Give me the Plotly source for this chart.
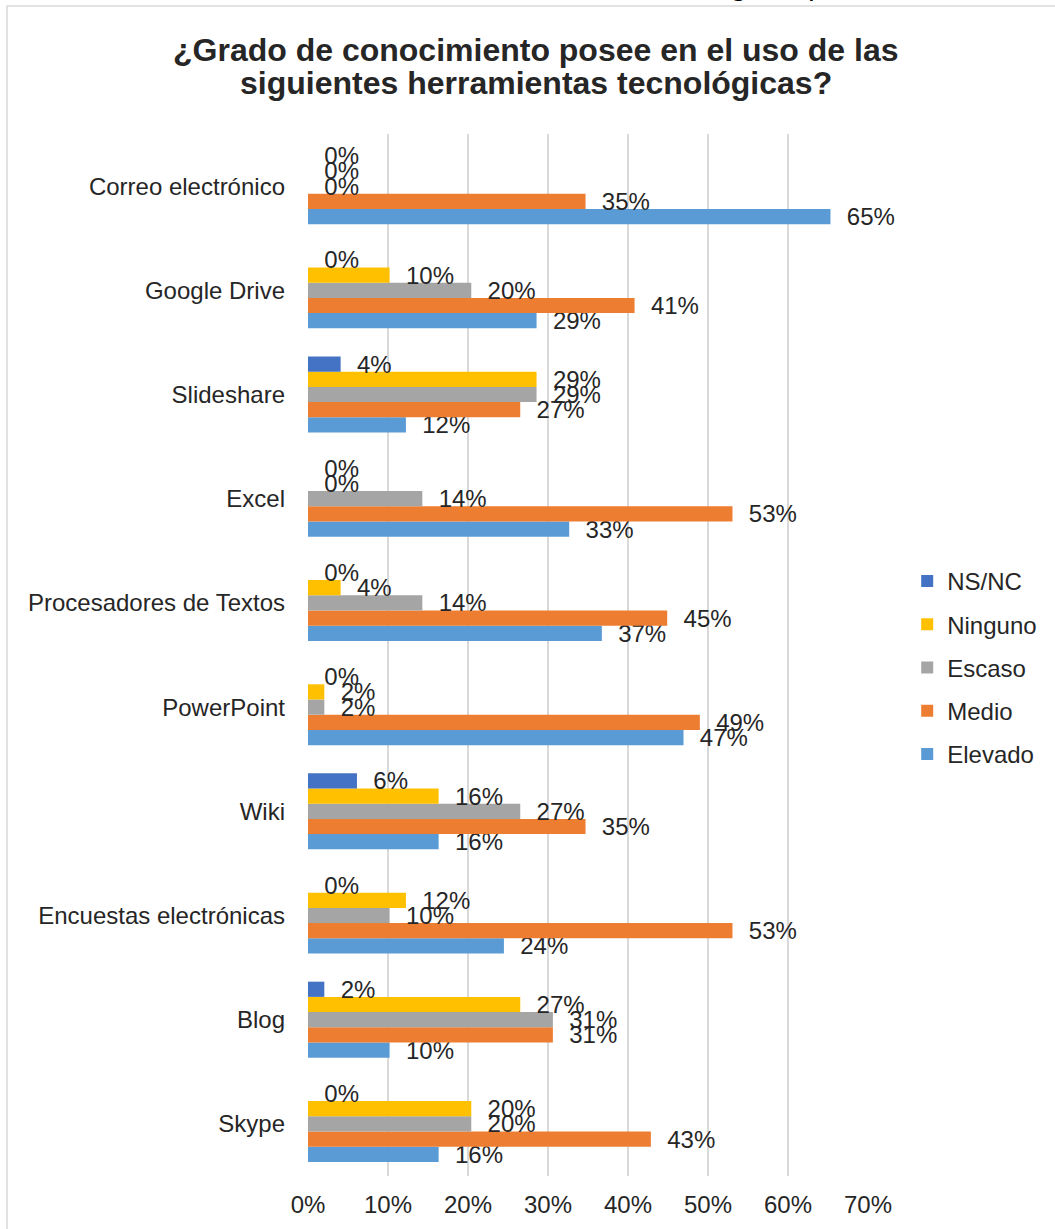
import plotly.graph_objects as go

# Categories, listed top to bottom as they appear
categories = [
    "Correo electrónico", "Google Drive", "Slideshare", "Excel",
    "Procesadores de Textos", "PowerPoint", "Wiki",
    "Encuestas electrónicas", "Blog", "Skype",
]

elevado = [0.6531, 0.2857, 0.1224, 0.3265, 0.3673, 0.4694, 0.1633, 0.2449, 0.1020, 0.1633]
medio   = [0.3469, 0.4082, 0.2653, 0.5306, 0.4490, 0.4898, 0.3469, 0.5306, 0.3061, 0.4286]
escaso  = [0.0000, 0.2041, 0.2857, 0.1429, 0.1429, 0.0204, 0.2653, 0.1020, 0.3061, 0.2041]
ninguno = [0.0000, 0.1020, 0.2857, 0.0000, 0.0408, 0.0204, 0.1633, 0.1224, 0.2653, 0.2041]
nsnc    = [0.0000, 0.0000, 0.0408, 0.0000, 0.0000, 0.0000, 0.0612, 0.0000, 0.0204, 0.0000]

tick_vals = [0, 0.1, 0.2, 0.3, 0.4, 0.5, 0.6, 0.7]
tick_text = ["0%", "10%", "20%", "30%", "40%", "50%", "60%", "70%"]

title_lines = ["¿Grado de conocimiento posee en el uso de las",
               "siguientes herramientas tecnológicas?"]
top_caption = "Grado de conocimiento de herramientas tecnológicas presentado"

# drawing order bottom -> top within each group; legend rank top -> bottom
series = [
    ("Elevado", elevado, "#5B9BD5", 5),
    ("Medio", medio, "#ED7D31", 4),
    ("Escaso", escaso, "#A5A5A5", 3),
    ("Ninguno", ninguno, "#FFC000", 2),
    ("NS/NC", nsnc, "#4472C4", 1),
]

FONT = "Liberation Sans, Arial, sans-serif"
W, H = 1055, 1229
ML, MR, MT, MB = 308, 187, 134, 53
FS = 24

fig = go.Figure()
for name, vals, color, rank in series:
    fig.add_trace(go.Bar(
        y=categories, x=vals, name=name, orientation="h",
        marker=dict(color=color, line=dict(width=0)),
        text=["\u00a0\u00a0" + f"{int(v * 100 + 0.5)}%" for v in vals],
        textposition="outside", cliponaxis=False, constraintext="none",
        textfont=dict(family=FONT, size=FS, color="#262626"),
        legendgroup=name, legendrank=rank,
    ))

fig.update_layout(
    width=W, height=H,
    margin=dict(l=ML, r=MR, t=MT, b=MB, pad=0),
    paper_bgcolor="white", plot_bgcolor="white",
    barmode="group", bargap=0.27, bargroupgap=0,
    font=dict(family=FONT, size=FS, color="#262626"),
    legend=dict(traceorder="grouped", x=1.07, xanchor="left",
                y=0.488, yanchor="middle", tracegroupgap=9,
                font=dict(family=FONT, size=FS, color="#262626"),
                bgcolor="rgba(0,0,0,0)"),
    showlegend=True,
)

fig.update_xaxes(range=[0, 0.7], tickvals=tick_vals, ticktext=tick_text,
                 showgrid=True, gridcolor="#D9D9D9", gridwidth=1.5,
                 zeroline=False, showline=False, ticks="",
                 ticklabelstandoff=12,
                 tickfont=dict(family=FONT, size=FS, color="#262626"))
fig.update_yaxes(categoryorder="array", categoryarray=list(reversed(categories)),
                 showgrid=False, zeroline=False, showline=False, ticks="",
                 ticklabelstandoff=22,
                 tickfont=dict(family=FONT, size=FS, color="#262626"))

pw = W - ML - MR
ph = H - MT - MB
def px_x(px):
    return (px - ML) / pw
def px_y(py):
    return (H - MB - py) / ph

# chart frame (extends beyond right/bottom edges as in the reference)
fig.add_shape(type="rect", xref="paper", yref="paper",
              x0=px_x(7), x1=px_x(W + 20), y0=px_y(6), y1=px_y(H + 20),
              line=dict(color="#D9D9D9", width=1.5), fillcolor="rgba(0,0,0,0)",
              layer="below")

# title, two lines
for line, cy in zip(title_lines, [50, 83]):
    fig.add_annotation(text="<b>" + line + "</b>", xref="paper", yref="paper",
                       x=px_x(536), y=px_y(cy), xanchor="center", yanchor="middle",
                       showarrow=False,
                       font=dict(family=FONT, size=32, color="#262626"))

# cropped caption above the frame
fig.add_annotation(text="<i>" + top_caption + "</i>", xref="paper", yref="paper",
                   x=px_x(526), y=px_y(3), xanchor="center", yanchor="bottom",
                   showarrow=False, font=dict(family=FONT, size=30, color="#000000"))

fig.write_html("out.html", config={"displayModeBar": False},
               post_script="document.body.style.margin='0';")
